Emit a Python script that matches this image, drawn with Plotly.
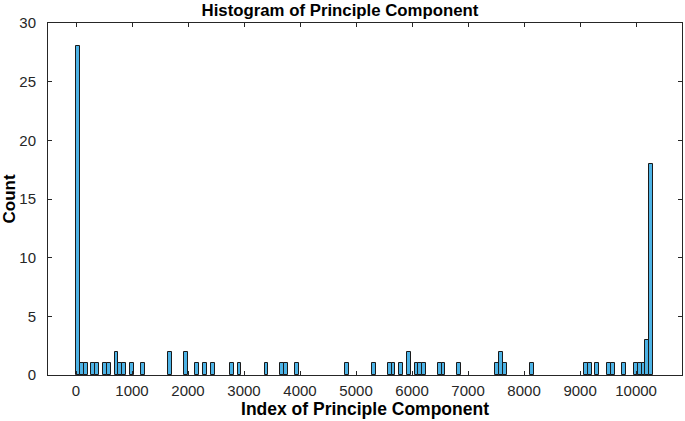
import numpy as np
import plotly.graph_objects as go

# Histogram settings (150 bins spanning the component indices 1..10304)
data_min = 1
data_max = 10304
n_bins = 150

# Non-empty bins (bin index) and their counts
bin_index = [0, 1, 2, 4, 5, 7, 8, 10, 11, 12, 14, 17, 24, 28, 31, 33, 35, 40, 42,
             49, 53, 54, 57, 70, 77, 81, 82, 84, 86, 88, 89, 90, 94, 95, 99, 109,
             110, 111, 118, 132, 133, 135, 138, 139, 142, 145, 146, 147, 148, 149]
counts = [28, 1, 1, 1, 1, 1, 1, 2, 1, 1, 1, 1, 2, 2, 1, 1, 1, 1, 1,
          1, 1, 1, 1, 1, 1, 1, 1, 1, 2, 1, 1, 1, 1, 1, 1, 1,
          2, 1, 1, 1, 1, 1, 1, 1, 1, 1, 1, 1, 3, 18]

x_ticks = [0, 1000, 2000, 3000, 4000, 5000, 6000, 7000, 8000, 9000, 10000]
y_ticks = [0, 5, 10, 15, 20, 25, 30]

bin_w = (data_max - data_min) / n_bins
centers = [data_min + (i + 0.5) * bin_w for i in bin_index]

fig = go.Figure(go.Bar(
    x=centers, y=counts, width=bin_w,
    marker=dict(color="#4db3e6", line=dict(color="#1a1a1a", width=1)),
))

axis_col = "#262626"
font_fam = "Liberation Sans, Arial, sans-serif"
fig.update_layout(
    width=685, height=421,
    margin=dict(l=48, r=3, t=23, b=46, autoexpand=False),
    paper_bgcolor="white", plot_bgcolor="white",
    font=dict(family=font_fam, color="#262626", size=15),
    bargap=0,
    showlegend=False,
    title=dict(text="<b>Histogram of Principle Component</b>", x=340 / 685, xanchor="center",
               y=1 - 10 / 421, yanchor="middle", yref="container", automargin=False,
               font=dict(size=16.8, color="black")),
)
fig.update_xaxes(
    range=[-500, 10820], tickvals=x_ticks, ticktext=[str(v) for v in x_ticks],
    ticks="inside", ticklen=4, tickcolor=axis_col, showline=True, linecolor=axis_col,
    linewidth=1, mirror="ticks", showgrid=False, zeroline=False, automargin=False,
    tickfont=dict(size=15, color="#262626"), ticklabelstandoff=2,
    title=dict(text="<b>Index of Principle Component</b>", font=dict(size=17.5, color="black"), standoff=4),
)
fig.update_yaxes(
    range=[0, 30], tickvals=y_ticks, ticks="inside", ticklen=4, tickcolor=axis_col,
    showline=True, linecolor=axis_col, linewidth=1, mirror="ticks", showgrid=False,
    zeroline=False, automargin=False, tickfont=dict(size=15, color="#262626"), ticklabelstandoff=8,
    title=dict(text="<b>Count</b>", font=dict(size=17, color="black"), standoff=6),
)
fig.write_html("out.html", config={"displayModeBar": False},
               post_script="document.body.style.margin='0';document.body.style.overflow='hidden';")
